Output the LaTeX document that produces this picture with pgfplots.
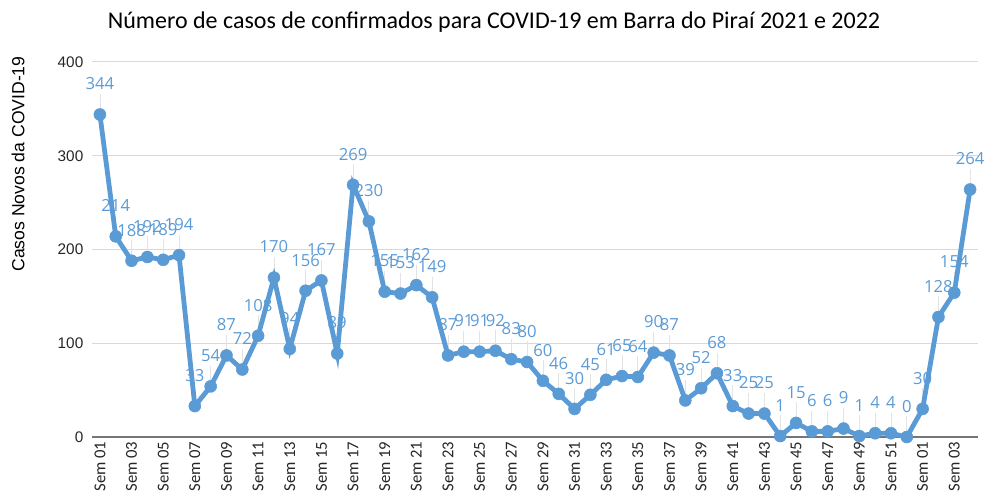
\documentclass[border=0pt]{standalone}
\usepackage{pgfplots}
\pgfplotsset{compat=1.18}
\usepackage{pgfplotstable}
\usepackage{fontspec}
\setmainfont{Liberation Sans}
\newfontfamily\carlito{Carlito}
\newfontfamily\opensans{Open Sans}
\definecolor{serie}{HTML}{5B9BD5}
\definecolor{grade}{HTML}{D9D9D9}
\definecolor{eixo}{HTML}{767676}
\definecolor{leader}{HTML}{E3E3E3}

\pgfplotstableread{
x y
1 344
2 214
3 188
4 192
5 189
6 194
7 33
8 54
9 87
10 72
11 108
12 170
13 94
14 156
15 167
16 89
17 269
18 230
19 155
20 153
21 162
22 149
23 87
24 91
25 91
26 92
27 83
28 80
29 60
30 46
31 30
32 45
33 61
34 65
35 64
36 90
37 87
38 39
39 52
40 68
41 33
42 25
43 25
44 1
45 15
46 6
47 6
48 9
49 1
50 4
51 4
52 0
53 30
54 128
55 154
56 264
}\casos

\begin{document}
\begin{tikzpicture}
\useasboundingbox (0,0) rectangle (738pt,375pt);
\node[font=\carlito\fontsize{18}{21}\selectfont] at (370.5pt,358.5pt)
  {Número de casos de confirmados para COVID-19 em Barra do Piraí 2021 e 2022};
\node[rotate=90,font=\fontsize{13.2}{15}\selectfont] at (13.5pt,252pt) {Casos Novos da COVID-19};
\begin{axis}[
    at={(69pt,47.25pt)}, anchor=south west,
    scale only axis, width=664.5pt, height=281.25pt,
    xmin=0.5, xmax=56.5, ymin=0, ymax=400,
    axis x line*=bottom, axis y line*=left,
    x axis line style={draw=eixo, line width=1pt, -},
    y axis line style={draw=none},
    ytick={0,100,200,300,400},
    ymajorgrids, grid style={draw=grade, line width=0.75pt},
    major tick length=0pt,
    xtick={1,3,...,55},
    xticklabels={Sem 01,Sem 03,Sem 05,Sem 07,Sem 09,Sem 11,Sem 13,Sem 15,Sem 17,Sem 19,Sem 21,Sem 23,Sem 25,Sem 27,Sem 29,Sem 31,Sem 33,Sem 35,Sem 37,Sem 39,Sem 41,Sem 43,Sem 45,Sem 47,Sem 49,Sem 51,Sem 01,Sem 03},
    x tick label style={rotate=90, anchor=east, font=\carlito\fontsize{12.5}{14}\selectfont, text=black!85},
    y tick label style={font=\fontsize{11.5}{13}\selectfont, text=black!85, xshift=-3pt},
    /pgf/number format/assume math mode=true,
    yticklabel={\pgfmathprintnumber{\tick}},
  ]
  \addplot[only marks, mark=none, forget plot,
    error bars/.cd, y dir=plus, y fixed=22, error mark=none,
    error bar style={draw=leader, line width=0.6pt}]
    table[x=x, y=y] {\casos};
  \addplot[color=serie, line width=3.6pt, mark=*, mark size=4.5pt,
    mark options={solid, fill=serie, draw=serie, line width=0.4pt},
    nodes near coords,
    every node near coord/.append style={anchor=center, yshift=23pt,
      font=\opensans\fontsize{12.5}{14}\selectfont, text=serie}]
    table[x=x, y=y] {\casos};
\end{axis}
\end{tikzpicture}
\end{document}
